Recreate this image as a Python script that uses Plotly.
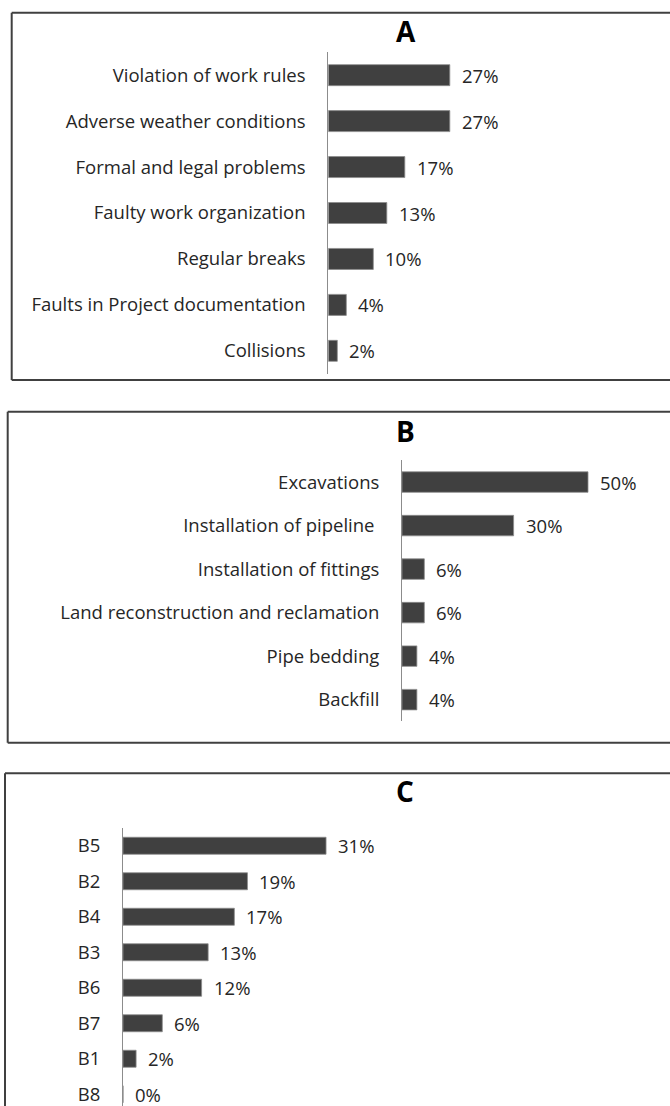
import plotly.graph_objects as go

W, H = 670, 1106

# ---- data ----
cats_a = ["Violation of work rules", "Adverse weather conditions", "Formal and legal problems",
          "Faulty work organization", "Regular breaks", "Faults in Project documentation", "Collisions"]
vals_a = [27, 27, 17, 13, 10, 4, 2]

cats_b = ["Excavations", "Installation of pipeline\u00a0", "Installation of fittings",
          "Land reconstruction and reclamation", "Pipe bedding", "Backfill"]
vals_b = [50, 30, 6, 6, 4, 4]

cats_c = ["B5", "B2", "B4", "B3", "B6", "B7", "B1", "B8"]
vals_c = [31, 19, 17, 13, 12, 6, 2, 0]

titles = ["A", "B", "C"]

FONT = "Open Sans"
TXT = "#262626"
BAR = "#404040"

def px_x(p):
    return p / W

def px_y(p):
    return 1 - p / H

fig = go.Figure()

panels = [
    # cats, vals, axis suffix, x axis px, px per unit, y top px, y bottom px, yrange, bar width
    (cats_a, vals_a, "", 328.3, 4.5, 52.2, 373.8, [6.5, -0.5], 0.457),
    (cats_b, vals_b, "2", 402.0, 3.72, 460.3, 721.4, [5.5, -0.5], 0.471),
    (cats_c, vals_c, "3", 123.0, 6.55, 828.0, 1106.0, [-0.5 + (1106 - 828) / 35.5, -0.5], 0.479),
]

annotations = []
for cats, vals, s, ax_px, ppu, ytop, ybot, yr, bw in panels:
    fig.add_trace(go.Bar(
        x=vals, y=cats, orientation="h",
        xaxis="x" + s, yaxis="y" + s,
        width=bw,
        marker=dict(color=BAR, line=dict(color="#8c8c8c", width=0.8)),
        hoverinfo="skip", showlegend=False,
    ))
    right_px = 660
    fig.update_layout(**{
        "xaxis" + s: dict(domain=[px_x(ax_px), px_x(right_px)], range=[0, (right_px - ax_px) / ppu],
                          anchor="y" + s, visible=False, fixedrange=True),
        "yaxis" + s: dict(domain=[px_y(ybot), px_y(ytop)], range=yr, anchor="x" + s,
                          type="category", showline=True, linecolor="#8c8c8c", linewidth=1,
                          showgrid=False, zeroline=False, ticks="", ticklabelstandoff=18,
                          tickfont=dict(family=FONT, size=18.5, color=TXT), fixedrange=True),
    })
    for c, v in zip(cats, vals):
        annotations.append(dict(
            x=v, y=c, xref="x" + s, yref="y" + s, text=f"{v}%", showarrow=False,
            xanchor="left", yanchor="middle", xshift=10,
            font=dict(family=FONT, size=18.5, color=TXT),
        ))

# panel titles
for t, (cx, cy) in zip(titles, [(406, 31), (405, 431), (405, 791)]):
    annotations.append(dict(
        x=px_x(cx), y=px_y(cy), xref="paper", yref="paper", text=t, showarrow=False,
        xanchor="center", yanchor="middle",
        font=dict(family=FONT, size=28, color="#000000", weight="bold"),
    ))

# panel frames (open at right / bottom as in the reference crop)
shapes = []
frames = [
    (11.7, 12.7, 380.0, True),
    (7.7, 411.7, 742.7, True),
    (5.0, 773.3, 1110.0, False),
]
for lx, ty, by, has_bottom in frames:
    line = dict(color="#404040", width=2)
    shapes.append(dict(type="line", xref="paper", yref="paper",
                       x0=px_x(lx), x1=px_x(W + 5), y0=px_y(ty), y1=px_y(ty), line=line))
    shapes.append(dict(type="line", xref="paper", yref="paper",
                       x0=px_x(lx), x1=px_x(lx), y0=px_y(ty), y1=px_y(by), line=line))
    if has_bottom:
        shapes.append(dict(type="line", xref="paper", yref="paper",
                           x0=px_x(lx), x1=px_x(W + 5), y0=px_y(by), y1=px_y(by), line=line))

fig.update_layout(
    width=W, height=H,
    margin=dict(l=0, r=0, t=0, b=0),
    paper_bgcolor="white", plot_bgcolor="white",
    annotations=annotations, shapes=shapes,
    showlegend=False,
)

fig.write_html("out.html", config={"displayModeBar": False},
               post_script="document.body.style.margin='0';document.body.style.overflow='hidden';")
